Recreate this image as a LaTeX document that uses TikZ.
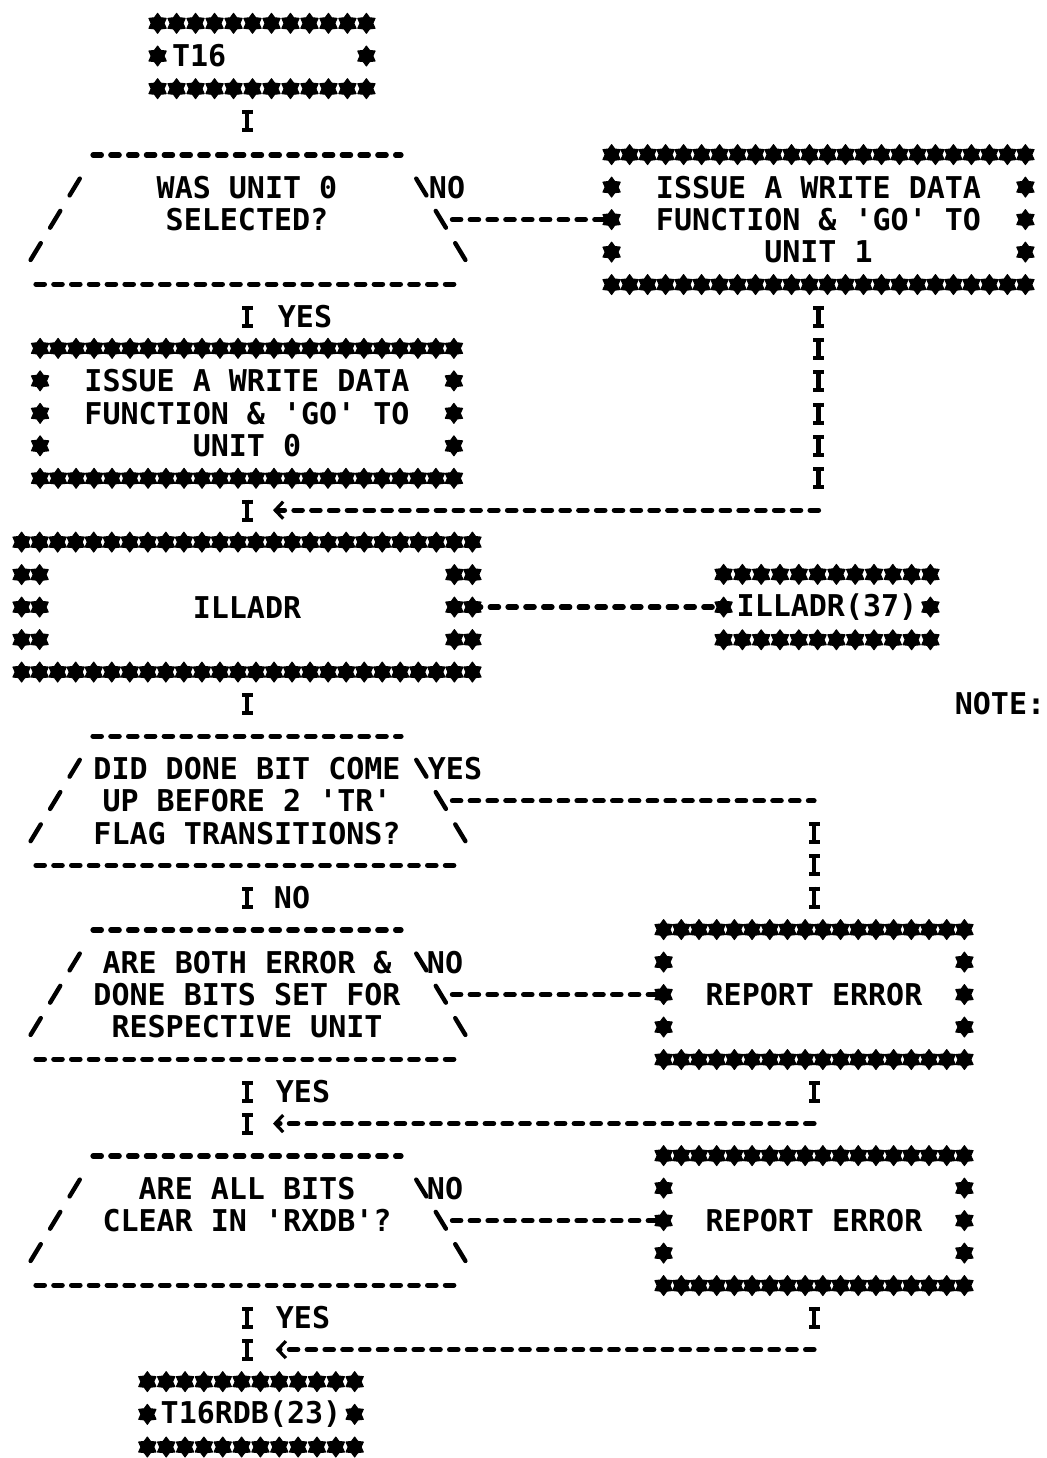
\documentclass[tikz,border=0pt]{standalone}
\usepackage{fontspec}
\usepackage{tikz}
\usetikzlibrary{arrows.meta,calc,shapes.geometric}
\newfontfamily\lpfont{DejaVu Sans Mono}
\newcommand{\lptext}{\lpfont\bfseries\fontsize{15pt}{16.145pt}\selectfont}
\tikzset{
  ast/.style={
    star,
    star points=6,
    star point ratio=1.55,
    fill=black,
    draw=black,
    line width=0.5pt,
    line join=round,
    inner sep=0pt,
    minimum size=10pt
  },
  starbox/.style={
    rectangle,
    inner sep=0pt,
    align=center,
    font=\lptext
  },
  question/.style={
    rectangle,
    inner sep=0pt,
    align=center,
    font=\lptext,
    minimum width=205pt,
    minimum height=64.58pt
  },
  lbl/.style={
    inner sep=0pt,
    font=\lptext
  },
  dashrow/.style={
    line width=2.6pt,
    line cap=round,
    dash pattern=on 4.2pt off 4.7pt
  },
  slashes/.style={
    line width=2.2pt,
    line cap=round,
    dash pattern=on 9.8pt off 9.05pt,
    dash phase=14.5pt
  },
  icol/.style={
    line width=2.4pt,
    dash pattern=on 11pt off 5.145pt,
    dash phase=13.57pt,
    shorten <=8.07pt,
    shorten >=8.07pt,
    postaction={draw, line width=5.5pt,
      dash pattern=on 2pt off 7pt on 2pt off 5.145pt, dash phase=13.57pt}
  },
  merge/.style={
    dashrow,
    -{Straight Barb[length=4pt,width=8.5pt,line width=1.6pt,sep=6pt]}
  }
}
\newcommand{\starframe}[3]{%
  \foreach \i [evaluate=\i as \f using \i/#2] in {0,...,#2}
    \path ($(#1.north west)!\f!(#1.north east)$) node[ast] {}
          ($(#1.south west)!\f!(#1.south east)$) node[ast] {};
  \foreach \j [evaluate=\j as \f using \j/(#3+1)] in {1,...,#3}
    \path ($(#1.north west)!\f!(#1.south west)$) node[ast] {}
          ($(#1.north east)!\f!(#1.south east)$) node[ast] {};
}
\newcommand{\askframe}[1]{%
  \draw[dashrow] ($(#1)+(-154,-64.58)$) -- ($(#1)+(154,-64.58)$)
                 ($(#1)+(-211,64.58)$) -- ($(#1)+(211,64.58)$);
  \draw[slashes] ($(#1)+(-162.75,-48.4)$) -- ($(#1)+(-221.25,48.4)$)
                 ($(#1)+(164.75,-48.4)$) -- ($(#1)+(223.25,48.4)$);
}
\begin{document}
\begin{tikzpicture}[x=0.5pt,y=-0.5pt]
  \useasboundingbox (0,0) rectangle (1047,1458);

  \node[starbox,align=left,text width=90pt,inner xsep=7pt,minimum width=104pt,minimum height=32.29pt] (t16) at (262,56) {T16};
  \node[question] (q1) at (247,219.58) {WAS UNIT 0\\SELECTED?\\~};
  \node[starbox,minimum width=206.5pt,minimum height=64.58pt] (b1) at (818.5,219.58) {ISSUE A WRITE DATA\\FUNCTION \& 'GO' TO\\UNIT 1};
  \node[starbox,minimum width=206.5pt,minimum height=64.58pt] (b2) at (247,413.32) {ISSUE A WRITE DATA\\FUNCTION \& 'GO' TO\\UNIT 0};
  \node[starbox,minimum width=225pt,minimum height=64.58pt] (ill) at (247,607.06) {ILLADR};
  \node[starbox,minimum width=103pt,minimum height=32.29pt] (ext) at (827,607.06) {ILLADR(37)};
  \node[lbl] (note) at (1000,703.93) {NOTE:};
  \node[question] (q2) at (247,800.8) {DID DONE BIT COME\\UP BEFORE 2 'TR'\\FLAG TRANSITIONS?};
  \node[question] (q3) at (247,994.54) {ARE BOTH ERROR \&\\DONE BITS SET FOR\\RESPECTIVE UNIT};
  \node[starbox,minimum width=150pt,minimum height=64.58pt] (e1) at (814,994.54) {REPORT ERROR};
  \node[question] (q4) at (247,1220.57) {ARE ALL BITS\\CLEAR IN 'RXDB'?\\~};
  \node[starbox,minimum width=150pt,minimum height=64.58pt] (e2) at (814,1220.57) {REPORT ERROR};
  \node[starbox,minimum width=103.25pt,minimum height=32.29pt] (last) at (251,1414.31) {T16RDB(23)};

  \starframe{t16}{11}{1}
  \starframe{b1}{23}{3}
  \starframe{b2}{23}{3}
  \starframe{ill}{25}{3}
  \foreach \j in {0.25,0.5,0.75}
    \path ($(ill.north west)!\j!(ill.south west)$) ++(18,0) node[ast] {}
          ($(ill.north east)!\j!(ill.south east)$) ++(-18,0) node[ast] {};
  \starframe{ext}{11}{1}
  \starframe{e1}{17}{3}
  \starframe{e2}{17}{3}
  \starframe{last}{11}{1}
  \askframe{q1}
  \askframe{q2}
  \askframe{q3}
  \askframe{q4}

  \node[lbl] (no1) at (447,187.29) {NO};
  \node[lbl] (yes1) at (305,316.45) {YES};
  \node[lbl] (yes2) at (455,768.51) {YES};
  \node[lbl] (no2) at (292,897.67) {NO};
  \node[lbl] (no3) at (445,962.25) {NO};
  \node[lbl] (yes3) at (303,1091.41) {YES};
  \node[lbl] (no4) at (445,1188.28) {NO};
  \node[lbl] (yes4) at (303,1317.44) {YES};

  \coordinate (j1) at ($(b2.south)!0.5!(ill.north)$);
  \coordinate (j2) at ($(q3.south)!0.6667!(q4.north)$);
  \coordinate (j3) at ($(q4.south)!0.6667!(last.north)$);

  \draw[icol] (q1.north |- t16.south) -- (q1.north);
  \draw[icol] (q1.south) -- (b2.north);
  \draw[icol] (b2.south) -- (ill.north);
  \draw[icol] (ill.south) -- (q2.north);
  \draw[icol] (q2.south) -- (q3.north);
  \draw[icol] (q3.south) -- (q4.north);
  \draw[icol] (q4.south) -- (q4.south |- last.north);
  \draw[dashrow] (q1.east) -- (b1.west);
  \draw[icol] (b1.south) -- (b1.south |- j1);
  \draw[merge] (b1.south |- j1) -- ([xshift=7pt]j1);
  \draw[dashrow] (ill.east) -- (ext.west);
  \draw[dashrow] (q2.east) -- (e1.north |- q2.east);
  \draw[icol] (e1.north |- q2.east) -- (e1.north);
  \draw[dashrow] (q3.east) -- (e1.west);
  \draw[icol] (e1.south) -- (e1.south |- j2);
  \draw[merge] (e1.south |- j2) -- ([xshift=7pt]j2);
  \draw[dashrow] (q4.east) -- (e2.west);
  \draw[icol] (e2.south) -- (e2.south |- j3);
  \draw[merge] (e2.south |- j3) -- ([xshift=7pt]j3);
\end{tikzpicture}
\end{document}
